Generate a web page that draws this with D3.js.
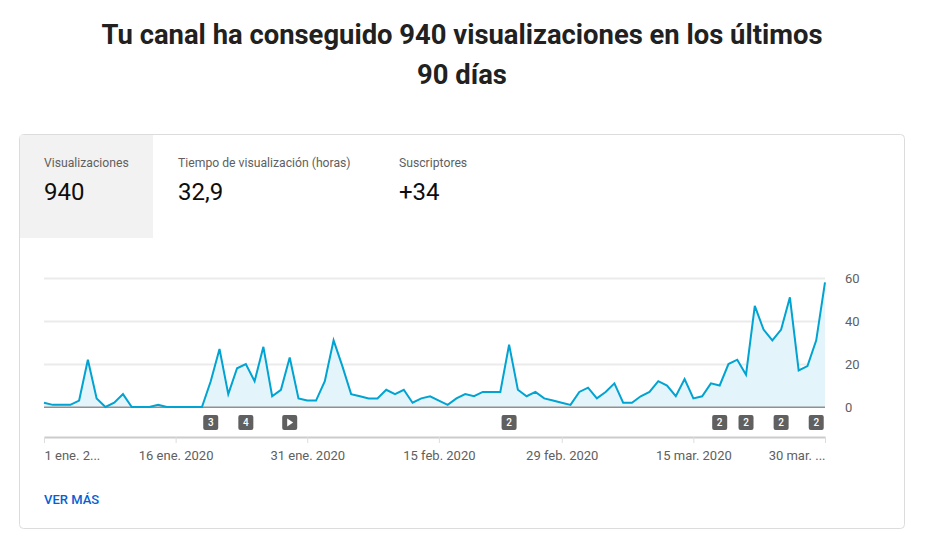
<!DOCTYPE html>
<html>
<head>
<meta charset="utf-8">
<script src="https://cdn.jsdelivr.net/npm/d3@7"></script>
<style>
  body { margin: 0; background: #fff; font-family: Roboto, "Noto Sans", sans-serif; }
  svg { display: block; }
</style>
</head>
<body>
<svg id="chart" width="929" height="549"></svg>
<script>
// daily views, 1 ene. 2020 .. 30 mar. 2020
const startDate = new Date(2020, 0, 1);
const views = [
  2, 1, 1, 1, 3, 22, 4, 0, 2, 6, 0, 0, 0, 1, 0, 0,
  0, 0, 0, 12, 27, 6, 18, 20, 12, 28, 5, 8, 23, 4, 3,
  3, 12, 31, 19, 6, 5, 4, 4, 8, 6, 8, 2, 4, 5, 3,
  1, 4, 6, 5, 7, 7, 7, 29, 8, 5, 7, 4, 3, 2, 1,
  7, 9, 4, 7, 11, 2, 2, 5, 7, 12, 10, 5, 13, 4, 5,
  11, 10, 20, 22, 15, 47, 36, 31, 36, 51, 17, 19, 31, 58
];
const yTicks = [0, 20, 40, 60];
const tickDays = [0, 15, 30, 45, 59, 74, 89];
const tickLabels = ["1 ene. 2...", "16 ene. 2020", "31 ene. 2020", "15 feb. 2020", "29 feb. 2020", "15 mar. 2020", "30 mar. ..."];
const markerDays = [19, 23, 28, 53, 77, 80, 84, 88];
const markerLabels = ["3", "4", "play", "2", "2", "2", "2", "2"];
const tabLabels = ["Visualizaciones", "Tiempo de visualización (horas)", "Suscriptores"];
const tabValues = ["940", "32,9", "+34"];

const dayOf = i => d3.timeDay.offset(startDate, i);
const data = views.map((v, i) => ({ date: dayOf(i), value: v }));

const svg = d3.select("#chart");

// title
const title = svg.append("text")
    .attr("text-anchor", "middle")
    .attr("font-size", "27.4px")
    .attr("font-weight", 700)
    .attr("fill", "#212121");
title.append("tspan").attr("x", 462).attr("y", 44).text("Tu canal ha conseguido 940 visualizaciones en los últimos");
title.append("tspan").attr("x", 462).attr("y", 84).text("90 días");

// card
svg.append("rect")
    .attr("x", 19.5).attr("y", 134.5)
    .attr("width", 885).attr("height", 394)
    .attr("rx", 4)
    .attr("fill", "#fff")
    .attr("stroke", "#dcdcdc");

svg.append("rect")
    .attr("x", 20).attr("y", 135)
    .attr("width", 133).attr("height", 103)
    .attr("fill", "#f2f2f2");

const tabX = [44, 178, 399];
const tabs = svg.selectAll("g.tab")
    .data(tabLabels)
    .join("g")
    .attr("class", "tab")
    .attr("transform", (d, i) => `translate(${tabX[i]},0)`);

tabs.append("text")
    .attr("y", 167)
    .attr("font-size", "12.2px")
    .attr("fill", "#606060")
    .text(d => d);

tabs.append("text")
    .attr("y", 200)
    .attr("font-size", "24px")
    .attr("fill", "#0d0d0d")
    .text((d, i) => tabValues[i]);

// chart
const margin = { left: 44, right: 825, top: 278, bottom: 407 };

const x = d3.scaleTime()
    .domain([dayOf(0), dayOf(views.length - 1)])
    .range([margin.left, margin.right]);

const y = d3.scaleLinear()
    .domain([0, 60])
    .range([margin.bottom, margin.top]);

const grid = svg.append("g")
    .attr("transform", `translate(${margin.right},0)`)
    .call(d3.axisRight(y).tickValues(yTicks).tickSize(margin.left - margin.right).tickPadding(20));

grid.select(".domain").remove();
grid.selectAll(".tick line")
    .attr("stroke", d => d === 0 ? "#909090" : "#ebebeb")
    .attr("stroke-width", d => d === 0 ? 1 : 2);
grid.selectAll(".tick text")
    .attr("x", 20)
    .attr("font-family", "Roboto")
    .attr("font-size", "13px")
    .attr("fill", "#606060");

const area = d3.area()
    .x(d => x(d.date))
    .y0(y(0))
    .y1(d => y(d.value));

const line = d3.line()
    .x(d => x(d.date))
    .y(d => y(d.value));

svg.append("path")
    .datum(data)
    .attr("fill", "#e3f4fa")
    .attr("d", area);

// redraw zero line over the fill
svg.append("line")
    .attr("x1", margin.left).attr("x2", margin.right)
    .attr("y1", y(0)).attr("y2", y(0))
    .attr("stroke", "#909090");

svg.append("path")
    .datum(data)
    .attr("fill", "none")
    .attr("stroke", "#00a3d1")
    .attr("stroke-width", 2)
    .attr("stroke-linejoin", "miter")
    .attr("d", line);

// markers
const markers = svg.selectAll("g.marker")
    .data(markerDays)
    .join("g")
    .attr("class", "marker")
    .attr("transform", d => `translate(${x(dayOf(d))},422.5)`);

markers.append("rect")
    .attr("x", -7.5).attr("y", -7.5)
    .attr("width", 15).attr("height", 15)
    .attr("rx", 2)
    .attr("fill", "#606060");

markers.filter((d, i) => markerLabels[i] !== "play")
    .append("text")
    .attr("text-anchor", "middle")
    .attr("dy", "0.36em")
    .attr("font-size", "10px")
    .attr("font-weight", 500)
    .attr("fill", "#fff")
    .text(d => markerLabels[markerDays.indexOf(d)]);

markers.filter((d, i) => markerLabels[i] === "play")
    .append("path")
    .attr("d", "M-2.5,-4L3.5,0L-2.5,4Z")
    .attr("fill", "#fff");

// x axis
const xAxis = svg.append("g")
    .attr("transform", "translate(0,437)")
    .call(d3.axisBottom(x)
        .tickValues(tickDays.map(dayOf))
        .tickFormat((d, i) => tickLabels[i])
        .tickSizeInner(6)
        .tickSizeOuter(0)
        .tickPadding(8));

xAxis.select(".domain")
    .attr("stroke", "#cccccc")
    .attr("stroke-width", 2);
xAxis.selectAll(".tick line")
    .attr("stroke", "#dddddd");
xAxis.selectAll(".tick text")
    .attr("font-family", "Roboto")
    .attr("font-size", "13px")
    .attr("fill", "#606060")
    .attr("text-anchor", (d, i) => i === 0 ? "start" : i === tickDays.length - 1 ? "end" : "middle");

svg.append("text")
    .attr("x", 44)
    .attr("y", 504)
    .attr("font-size", "13px")
    .attr("font-weight", 500)
    .attr("fill", "#065fd4")
    .text("VER MÁS");
</script>
</body>
</html>
